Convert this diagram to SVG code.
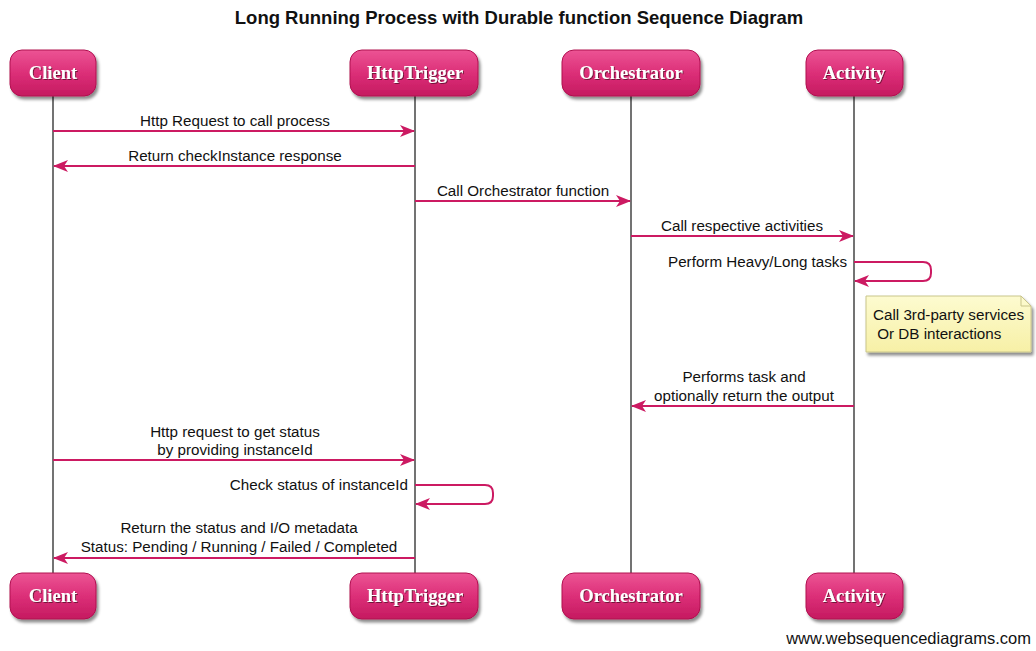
<svg xmlns="http://www.w3.org/2000/svg" width="1036" height="651" viewBox="0 0 1036 651">
  <style>
    .title { font-family: "Liberation Sans", Arial, sans-serif; font-size: 18.5px; font-weight: bold; fill: #111; text-anchor: middle; }
    .actor-box { fill: url(#actorFill); stroke: #b01050; stroke-width: 1; filter: url(#shadow); }
    .actor-text { font-family: "Liberation Serif", "Times New Roman", serif; font-size: 18.5px; font-weight: bold; fill: #fff; text-anchor: middle; filter: url(#textShadow); }
    .lifeline { stroke: #444; stroke-width: 1.5; fill: none; }
    .msg { stroke: #cc1a62; stroke-width: 2; fill: none; marker-end: url(#arrow); }
    .label { font-family: "Liberation Sans", Arial, sans-serif; font-size: 15.2px; fill: #111; text-anchor: middle; }
    .label-r { font-family: "Liberation Sans", Arial, sans-serif; font-size: 15.2px; fill: #111; text-anchor: end; }
    .note-text { font-family: "Liberation Sans", Arial, sans-serif; font-size: 15.2px; fill: #111; }
    .footer { font-family: "Liberation Sans", Arial, sans-serif; font-size: 16.5px; fill: #111; text-anchor: end; }
  </style>
  <defs>
    <linearGradient id="actorFill" x1="0" y1="0" x2="0" y2="1">
      <stop offset="0" stop-color="#ec5494"/>
      <stop offset="0.5" stop-color="#dc2f78"/>
      <stop offset="1" stop-color="#c51a60"/>
    </linearGradient>
    <linearGradient id="noteFill" x1="0" y1="0" x2="0" y2="1">
      <stop offset="0" stop-color="#fdfbd0"/>
      <stop offset="1" stop-color="#f7f0a6"/>
    </linearGradient>
    <filter id="shadow" x="-20%" y="-20%" width="140%" height="150%">
      <feDropShadow dx="2" dy="3" stdDeviation="1.5" flood-color="#000" flood-opacity="0.45"/>
    </filter>
    <filter id="textShadow" x="-10%" y="-20%" width="120%" height="150%">
      <feDropShadow dx="1" dy="1" stdDeviation="0.6" flood-color="#5a0a2a" flood-opacity="0.8"/>
    </filter>
    <!-- barbed arrowhead shared by all messages -->
    <marker id="arrow" viewBox="0 0 15 12" refX="14" refY="6" markerWidth="15" markerHeight="12" markerUnits="userSpaceOnUse" orient="auto">
      <path d="M0,0 L15,6 L0,12 L4,6 z" fill="#cc1a62"/>
    </marker>
  </defs>

  <rect width="1036" height="651" fill="#fff"/>

  <text class="title" x="519" y="24">Long Running Process with Durable function Sequence Diagram</text>

  <!-- lifelines -->
  <g id="lifelines">
    <line class="lifeline" x1="53" y1="96" x2="53" y2="573"/>
    <line class="lifeline" x1="415" y1="96" x2="415" y2="573"/>
    <line class="lifeline" x1="631" y1="96" x2="631" y2="573"/>
    <line class="lifeline" x1="854" y1="96" x2="854" y2="573"/>
  </g>

  <!-- participants (top) -->
  <g id="client-top">
    <rect class="actor-box" x="10" y="50" width="86" height="46" rx="12"/>
    <text class="actor-text" x="53" y="79">Client</text>
  </g>
  <g id="httptrigger-top">
    <rect class="actor-box" x="350" y="50" width="128" height="46" rx="12"/>
    <text class="actor-text" x="415" y="79">HttpTrigger</text>
  </g>
  <g id="orchestrator-top">
    <rect class="actor-box" x="562" y="50" width="138" height="46" rx="12"/>
    <text class="actor-text" x="631" y="79">Orchestrator</text>
  </g>
  <g id="activity-top">
    <rect class="actor-box" x="806" y="50" width="97" height="46" rx="12"/>
    <text class="actor-text" x="854" y="79">Activity</text>
  </g>

  <!-- participants (bottom) -->
  <g id="client-bottom">
    <rect class="actor-box" x="10" y="573" width="86" height="46" rx="12"/>
    <text class="actor-text" x="53" y="602">Client</text>
  </g>
  <g id="httptrigger-bottom">
    <rect class="actor-box" x="350" y="573" width="128" height="46" rx="12"/>
    <text class="actor-text" x="415" y="602">HttpTrigger</text>
  </g>
  <g id="orchestrator-bottom">
    <rect class="actor-box" x="562" y="573" width="138" height="46" rx="12"/>
    <text class="actor-text" x="631" y="602">Orchestrator</text>
  </g>
  <g id="activity-bottom">
    <rect class="actor-box" x="806" y="573" width="97" height="46" rx="12"/>
    <text class="actor-text" x="854" y="602">Activity</text>
  </g>

  <!-- messages -->
  <g id="connectors">
    <path class="msg" d="M53,131 H414"/>
    <text class="label" x="235" y="126">Http Request to call process</text>

    <path class="msg" d="M415,166 H54"/>
    <text class="label" x="235" y="161">Return checkInstance response</text>

    <path class="msg" d="M415,201 H630"/>
    <text class="label" x="523" y="196">Call Orchestrator function</text>

    <path class="msg" d="M631,236 H853"/>
    <text class="label" x="742" y="231">Call respective activities</text>

    <path class="msg" d="M854,262 H923 Q931,262 931,270 V273 Q931,281 923,281 H855"/>
    <text class="label-r" x="847" y="267">Perform Heavy/Long tasks</text>

    <path class="msg" d="M854,406 H632"/>
    <text class="label" x="744" y="382">Performs task and</text>
    <text class="label" x="744" y="401">optionally return the output</text>

    <path class="msg" d="M53,460 H414"/>
    <text class="label" x="235" y="437">Http request to get status</text>
    <text class="label" x="235" y="455">by providing instanceId</text>

    <path class="msg" d="M415,485 H485 Q493,485 493,493 V496 Q493,504 485,504 H416"/>
    <text class="label-r" x="408" y="490">Check status of instanceId</text>

    <path class="msg" d="M415,558 H54"/>
    <text class="label" x="239" y="533">Return the status and I/O metadata</text>
    <text class="label" x="239" y="552">Status: Pending / Running / Failed / Completed</text>
  </g>

  <!-- note -->
  <g id="note">
    <path d="M866,296 H1021 L1031,306 V352 H866 Z" fill="url(#noteFill)" stroke="#c9c58a" stroke-width="1" filter="url(#shadow)"/>
    <path d="M1021,296 V306 H1031" fill="none" stroke="#c9c58a" stroke-width="1"/>
    <text class="note-text" x="873" y="320">Call 3rd-party services</text>
    <text class="note-text" x="873" y="339" xml:space="preserve"> Or DB interactions</text>
  </g>

  <text class="footer" x="1031" y="644">www.websequencediagrams.com</text>
</svg>
